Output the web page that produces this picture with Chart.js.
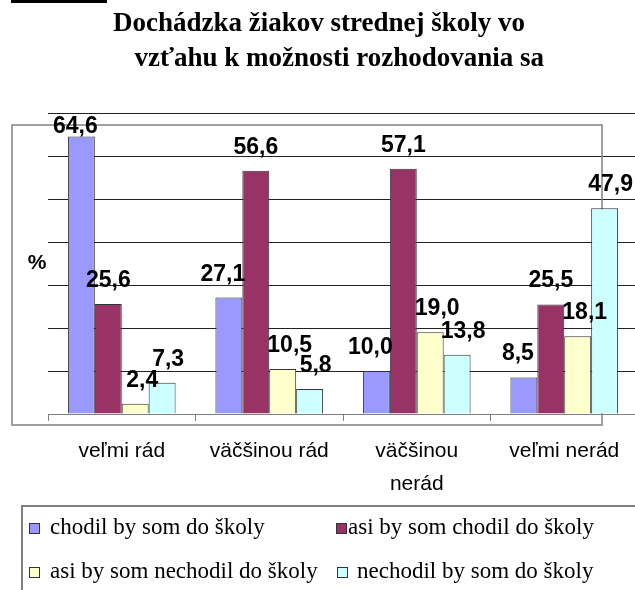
<!DOCTYPE html>
<html>
<head>
<meta charset="utf-8">
<script src="https://cdn.jsdelivr.net/npm/chart.js@4"></script>
<style>
  html, body { margin: 0; padding: 0; background: #fff; overflow: hidden; }
  #wrap { position: relative; width: 640px; height: 590px; }
</style>
</head>
<body>
<div id="wrap"><canvas id="chart"></canvas></div>
<script>
// data
const categories = ['veľmi rád', 'väčšinou rád', ['väčšinou', 'nerád'], 'veľmi nerád'];
const seriesNames = ['chodil by som do školy', 'asi by som chodil do školy', 'asi by som nechodil do školy', 'nechodil by som do školy'];
const chodil = [64.6, 27.1, 10.0, 8.5];
const asiChodil = [25.6, 56.6, 57.1, 25.5];
const asiNechodil = [2.4, 10.5, 19.0, 18.1];
const nechodil = [7.3, 5.8, 13.8, 47.9];
const yTicks = [0, 10, 20, 30, 40, 50, 60, 70];

const colors = ['#9999FF', '#993366', '#FFFFCC', '#CCFFFF'];
const labelShift = [-6, 0, 7, 6];

const fmt = v => v.toFixed(1).replace('.', ',');

const extras = {
  id: 'extras',
  beforeDatasetsDraw(chart) {
    const ctx = chart.ctx;
    ctx.save();
    // outer frame of the chart object
    ctx.strokeStyle = '#808080';
    ctx.lineWidth = 1.5;
    ctx.strokeRect(12, 125, 590, 300);
    ctx.restore();
  },
  afterDatasetsDraw(chart) {
    const ctx = chart.ctx;
    const top = chart.chartArea.top;
    ctx.save();
    ctx.font = 'bold 23px "Liberation Sans", Arial, sans-serif';
    ctx.fillStyle = '#000';
    ctx.textAlign = 'center';
    ctx.textBaseline = 'alphabetic';
    chart.data.datasets.forEach((ds, i) => {
      chart.getDatasetMeta(i).data.forEach((bar, j) => {
        const y = Math.max(bar.y - 17, top + 20);
        ctx.fillText(fmt(ds.data[j]), bar.x + labelShift[i], y);
      });
    });
    ctx.restore();
  },
  afterDraw(chart) {
    const ctx = chart.ctx;
    const area = chart.chartArea;
    ctx.save();
    // "%" axis label
    ctx.font = 'bold 21px "Liberation Sans", Arial, sans-serif';
    ctx.fillStyle = '#000';
    ctx.textAlign = 'center';
    ctx.textBaseline = 'middle';
    ctx.fillText('%', 37, (area.top + area.bottom) / 2);

    // cut-off underline from the page above
    ctx.fillRect(11, 0, 96, 3);

    // legend box
    ctx.strokeStyle = '#808080';
    ctx.lineWidth = 2;
    ctx.beginPath();
    ctx.moveTo(22, 595);
    ctx.lineTo(22, 506);
    ctx.lineTo(645, 506);
    ctx.stroke();

    const slots = [[29, 528, 50], [336, 528, 348], [29, 572, 50], [337, 572, 357]];
    ctx.font = '23px "Liberation Serif", "Times New Roman", serif';
    ctx.textAlign = 'left';
    ctx.textBaseline = 'middle';
    chart.data.datasets.forEach((ds, i) => {
      const [bx, by, tx] = slots[i];
      ctx.fillStyle = ds.backgroundColor;
      ctx.fillRect(bx, by - 5, 11, 11);
      ctx.strokeStyle = '#333';
      ctx.lineWidth = 1;
      ctx.strokeRect(bx + 0.5, by - 4.5, 10, 10);
      ctx.fillStyle = '#000';
      ctx.fillText(ds.label, tx, by);
    });
    ctx.restore();
  }
};

new Chart(document.getElementById('chart'), {
  type: 'bar',
  data: {
    labels: categories,
    datasets: [chodil, asiChodil, asiNechodil, nechodil].map((d, i) => ({
      label: seriesNames[i],
      data: d,
      backgroundColor: colors[i],
      borderColor: '#333',
      borderWidth: 1,
      categoryPercentage: 0.73,
      barPercentage: 1
    }))
  },
  options: {
    responsive: true,
    maintainAspectRatio: false,
    animation: false,
    layout: { padding: { left: 0, right: 2, top: 0, bottom: 0 } },
    plugins: {
      legend: { display: false },
      tooltip: { enabled: false },
      title: {
        display: true,
        text: ['Dochádzka žiakov strednej školy vo', '      vzťahu k možnosti rozhodovania sa'],
        color: '#000',
        font: { family: '"Liberation Serif", "Times New Roman", serif', size: 27, weight: 'bold', lineHeight: 1.3 },
        padding: { top: 6, bottom: 37 }
      }
    },
    scales: {
      x: {
        afterFit: s => { s.height = 176; },
        border: { display: true, color: '#808080', width: 1 },
        grid: { offset: true, drawOnChartArea: false, drawTicks: true, tickLength: 7, color: '#808080' },
        ticks: {
          color: '#000',
          padding: 14,
          maxRotation: 0,
          autoSkip: false,
          font: { family: '"Liberation Sans", Arial, sans-serif', size: 21, lineHeight: 1.55 }
        }
      },
      y: {
        min: 0,
        max: 70,
        afterFit: s => { s.width = 48; },
        afterBuildTicks: s => { s.ticks = yTicks.map(v => ({ value: v })); },
        border: { display: false },
        grid: { color: '#222', lineWidth: 1, drawTicks: false },
        ticks: { display: false }
      }
    }
  },
  plugins: [extras]
});
</script>
</body>
</html>
